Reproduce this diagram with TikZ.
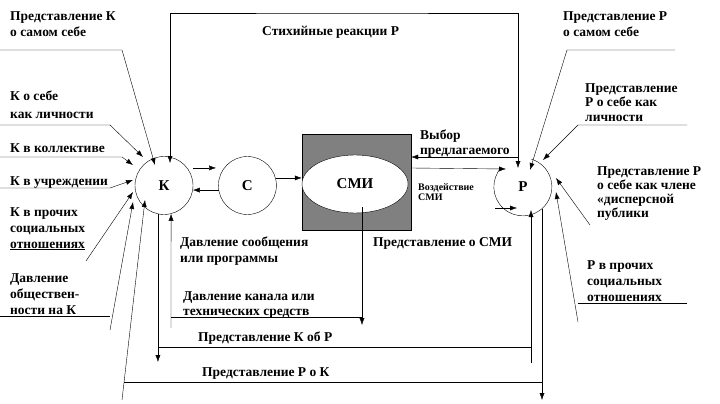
\documentclass[tikz,border=0pt]{standalone}
\usepackage{fontspec}
\setmainfont{Liberation Serif}
\usetikzlibrary{positioning, shapes.geometric, arrows.meta}
\definecolor{boxgray}{RGB}{128,128,128}

\begin{document}
\begin{tikzpicture}[x=1pt, y=-1pt, >={Latex[length=7pt,width=5pt]},
	main/.style = {circle, minimum size=58pt, inner sep=0pt, font=\fontsize{15}{18}\selectfont\bfseries},
	lbl/.style = {anchor=north west, inner sep=0pt, align=left, font=\fontsize{13.5}{16}\selectfont\bfseries}]
	\useasboundingbox (0,0) rectangle (720,404);

	% K, C, SMI, P
	\node[main, draw] (k) at (164,185.5) {К};
	\node[main, draw] (c) [right=25pt of k] {С};
	\node[draw, fill=boxgray, minimum width=109pt, minimum height=96pt] (box) at (356.5,182) {};
	\node[main, draw, fill=white, ellipse, minimum width=106pt, minimum height=58pt] (smi) at (355,184) {СМИ};
	\node[main] (p) at (523,187) {Р};
	\draw (p.138) arc[start angle=138, end angle=433, radius=29pt];

	% labels
	\node[lbl] (kself) at (10,11) {Представление К\\о самом себе};
	\node[lbl] (klich) at (10,91) {К о себе\\[2pt]как личности};
	\node[lbl] (kkol) at (10,143) {К в коллективе};
	\node[lbl] (kuch) at (10,176) {К в учреждении};
	\node[lbl] (kpro) at (10,207) {К в прочих\\социальных\\\underline{отношениях}};
	\node[lbl] (kobs) at (10,273) {Давление\\обществен-\\ности на К};
	\node[lbl] (pself) at (563,11) {Представление Р\\о самом себе};
	\node[lbl, font=\fontsize{13.5}{14.5}\selectfont\bfseries] (plich) at (585,83) {Представление\\Р о себе как\\личности};
	\node[lbl, font=\fontsize{13.5}{14}\selectfont\bfseries] (pdis) at (597,166) {Представление Р\\о себе как члене\\«дисперсной\\публики};
	\node[lbl] (ppro) at (587,260) {Р в прочих\\социальных\\отношениях};
	\node[lbl] (stih) at (262,26) {Стихийные реакции Р};
	\node[lbl, font=\fontsize{13.5}{15}\selectfont\bfseries] (vyb) at (420,130) {Выбор\\предлагаемого};
	\node[lbl, font=\fontsize{10}{10}\selectfont\bfseries] (vozd) at (418,183) {Воздействие\\СМИ};
	\node[lbl] (psmi) at (373,237) {Представление о СМИ};
	\node[lbl] (dsoob) at (180,237) {Давление сообщения\\или программы};
	\node[lbl, font=\fontsize{13.5}{15}\selectfont\bfseries] (dkan) at (183,291) {Давление канала или\\технических средств};
	\node[lbl] (kobp) at (198,332) {Представление К об Р};
	\node[lbl] (pok) at (202,367) {Представление Р о К};

	% K -- C -- SMI -- P
	\draw[->, shorten <=6pt, shorten >=8pt] (k.37) -- (c.143);
	\draw[->] (c.189) -- (k.351);
	\draw[->] (c.15) -- (c.15 -| box.west);
	\draw[->] ([shift={(0,-14)}]box.east) -- ([shift={(-17,-18)}]p.center);
	\coordinate (top) at (340,13);
	\draw[<->] ([shift={(6,-22.5)}]k.center) |- (top) -| ([shift={(-5,-19)}]p.center);
	\coordinate (vy) at (518,157);
	\draw[->] (vy) -- (vy -| box.east);
	\coordinate (pin) at (495,208);
	\draw[->] (pin) -- ([shift={(-6,21)}]p.center);

	% left side
	\coordinate (l1) at (0,50);
	\draw[->] (l1) -- ++(122,0) -- ([shift={(-9,-20.5)}]k.center);
	\coordinate (l2) at (0,125);
	\draw[->] (l2) -- ++(110,0) -- ([shift={(-21,-28.5)}]k.center);
	\coordinate (l3) at (0,157);
	\draw[->] (l3) -- ++(122,0) -- ([shift={(-31,-20.5)}]k.center);
	\coordinate (l4) at (0,188);
	\draw[->] (l4) -- ++(110,0) -- ([shift={(-31,-5.5)}]k.center);
	\coordinate (l5) at (86,261);
	\draw[->] (l5) -- ([shift={(-31,6.5)}]k.center);
	\coordinate (l6) at (0,316);
	\draw (l6) -- ++(110,0);
	\coordinate (l7) at (110,330);
	\draw[->] (l7) -- ([shift={(-31,16.5)}]k.center);

	% right side
	\coordinate (r1) at (675,50);
	\draw[->] (r1) -- ++(-108,0) -- ([shift={(7,-17)}]p.center);
	\coordinate (r2) at (687,125);
	\draw[->] (r2) -- ++(-109,0) -- ([shift={(20,-27)}]p.center);
	\coordinate (r3) at (590,225);
	\draw[->] (r3) -- ([shift={(33,-9)}]p.center);
	\coordinate (r4) at (687,303);
	\draw (r4) -- ++(-109,0);
	\coordinate (r5) at (578,322);
	\draw[->] (r5) -- ([shift={(33,5)}]p.center);

	% bottom
	\coordinate (kan) at (171,328);
	\draw[->] (kan) -- (k.284);
	\draw[->] ([shift={(7,23)}]smi.center) -- ++(0,118);
	\coordinate (kanl) at (171,317);
	\draw (kanl) -- ++(191,0);
	\coordinate (kr1) at (158,362);
	\draw[->] (k.258) -- (k.258 |- kr1);
	\coordinate (kr2) at (531,363);
	\draw[->] (kr2) -- ([shift={(8,23)}]p.center);
	\coordinate (krl) at (158,347);
	\draw (krl) -- (krl -| kr2);
	\coordinate (rk0) at (122,400);
	\draw[->] (rk0) -- ([shift={(-19,14.5)}]k.center);
	\coordinate (rk1) at (542,400);
	\draw[->] ([shift={(19,22)}]p.center) -- (rk1);
	\coordinate (rkl) at (124,382);
	\draw (rkl) -- (rkl -| rk1);
\end{tikzpicture}
\end{document}
